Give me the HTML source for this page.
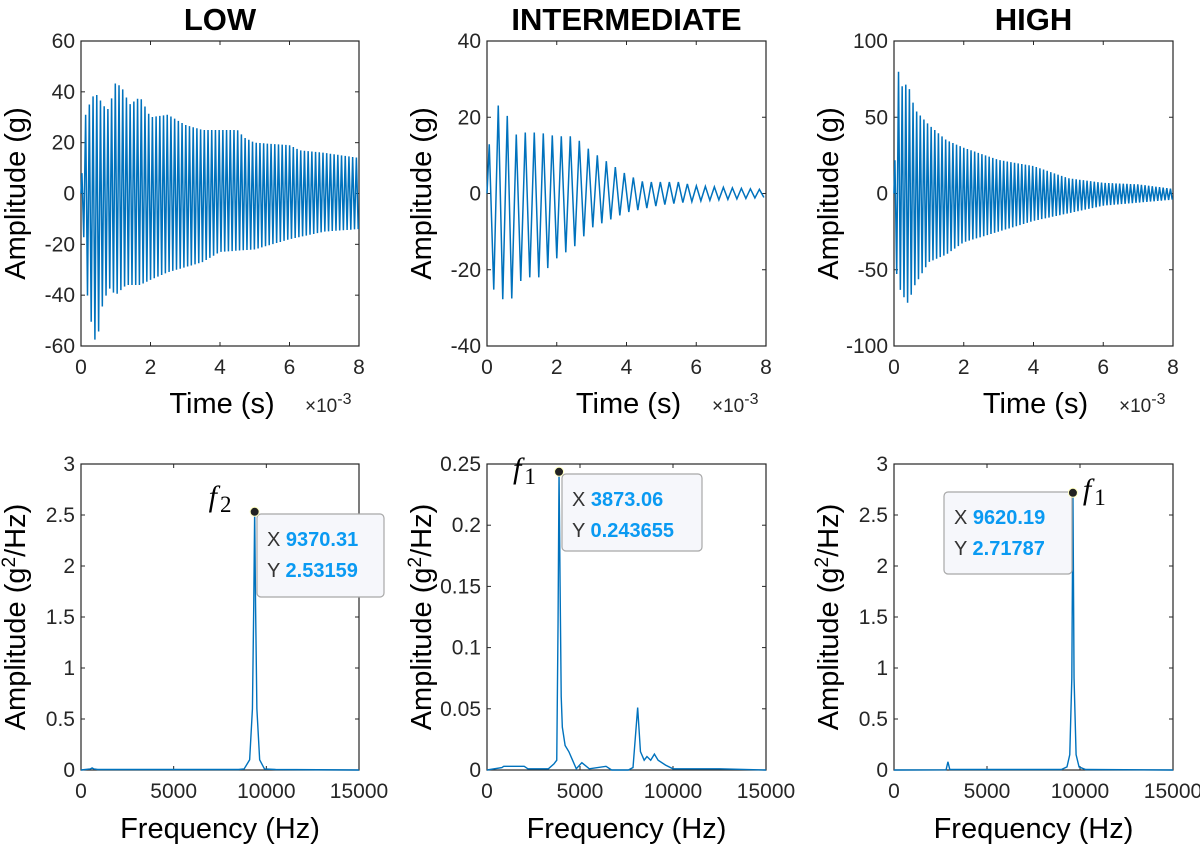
<!DOCTYPE html>
<html><head><meta charset="utf-8">
<style>
body{margin:0;background:#fff;}
svg{display:block;font-family:"Liberation Sans",sans-serif;}
</style></head>
<body>
<svg id="fig" width="1200" height="845" viewBox="0 0 1200 845"></svg>
<script>
// ---- data ----
const lowEnvT=[0,0.1,0.2,0.3,0.5,0.6,0.8,1.0,1.2,1.4,1.7,2.0,2.5,3.0,3.5,4.0,4.5,4.7,5.0,6.0,6.3,7.0,8.0];
const lowEnvU=[0,30,33,38,39,35,33,44,41,35,38,30,31,27,25,25,25,22,20,19,17,16,14];
const lowEnvLT=[0,0.2,0.35,0.45,0.6,0.8,1.0,1.3,1.7,2.0,2.5,3.0,3.5,4.0,5.0,6.0,7.0,8.0];
const lowEnvL=[0,-43,-55,-60,-45,-37,-40,-36,-36,-34,-31,-29,-27,-23,-22,-18,-15,-14];
const midEnvT=[0,0.1,0.2,0.35,0.5,0.7,1.0,1.5,2.0,2.5,3.0,3.5,4.0,4.5,5.0,5.5,6.0,7.0,8.0];
const midEnvU=[0,20,28,22,24,15,16,16,15,15,11,8,5,3,3,3,2,1.5,1];
const midEnvLT=[0,0.05,0.2,0.4,0.6,0.8,1.0,1.5,2.0,2.5,3.0,3.5,4.0,5.0,6.0,8.0];
const midEnvL=[0,-30,-25,-28,-27,-28,-22,-22,-17,-14,-9,-7,-5,-3,-2,-1];
const highEnvT=[0,0.1,0.2,0.4,0.6,1.0,1.5,2.0,3.0,4.0,5.0,6.0,7.0,8.0];
const highEnvU=[0,84,70,72,55,45,35,30,22,18,10,7,6,3];
const highEnvLT=[0,0.05,0.2,0.4,0.6,1.0,1.5,2.0,3.0,4.0,5.0,6.0,7.0,8.0];
const highEnvL=[0,-50,-65,-72,-60,-45,-40,-32,-25,-18,-13,-8,-6,-4];
const cycleFreqs=[9370,3873,9620];

const lowF=[0,500,600,700,900,2000,8500,8800,9100,9250,9320,9370,9420,9490,9640,9900,10500,15000];
const lowA=[0,0.01,0.02,0.01,0.005,0.005,0.005,0.01,0.1,0.6,1.6,2.53159,1.6,0.6,0.1,0.01,0.005,0];
const midF=[0,800,900,2000,2200,3300,3600,3750,3820,3873,3930,3990,4050,4200,4400,4600,4800,5100,5500,6400,6700,7600,7850,8100,8250,8450,8600,8800,9000,9200,9600,10000,12500,15000];
const midA=[0,0.002,0.003,0.003,0.001,0.001,0.005,0.008,0.12,0.243655,0.15,0.06,0.035,0.02,0.015,0.008,0.001,0.006,0.001,0.003,0,0,0.002,0.051,0.015,0.008,0.011,0.008,0.013,0.008,0.004,0.001,0.001,0];
const highF=[0,2800,2900,3000,9000,9300,9450,9560,9620,9680,9790,9950,10300,15000];
const highA=[0,0.002,0.08,0.005,0.005,0.03,0.15,0.9,2.71787,0.9,0.15,0.03,0.005,0];

const titles=["LOW","INTERMEDIATE","HIGH"];
const topYTicks=[[-60,-40,-20,0,20,40,60],[-40,-20,0,20,40],[-100,-50,0,50,100]];
const timeTicks=[0,2,4,6,8];
const botYTicks=[[0,0.5,1,1.5,2,2.5,3],[0,0.05,0.1,0.15,0.2,0.25],[0,0.5,1,1.5,2,2.5,3]];
const freqTicks=[0,5000,10000,15000];
const tipX=["9370.31","3873.06","9620.19"];
const tipY=["2.53159","0.243655","2.71787"];
const tipLbl=["2","1","1"];

// ---- layout ----
const NS="http://www.w3.org/2000/svg";
const svg=document.getElementById('fig');
const cols=[[81,359],[487,766],[894,1173]];
const topRow=[41,346], botRow=[464,770];
const BLUE="#0072BD";
function mk(tag,attrs,parent){const e=document.createElementNS(NS,tag);for(const k in attrs)e.setAttribute(k,attrs[k]);(parent||svg).appendChild(e);return e;}
function interp(ts,vs,t){if(t<=ts[0])return vs[0];for(let i=1;i<ts.length;i++){if(t<=ts[i]){const f=(t-ts[i-1])/(ts[i]-ts[i-1]);return vs[i-1]+f*(vs[i]-vs[i-1]);}}return vs[vs.length-1];}

function axes(g,x0,x1,y0,y1,xt,xmin,xmax,yt,ymin,ymax,fmtX,fmtY){
  const sx=v=>x0+(v-xmin)/(xmax-xmin)*(x1-x0);
  const sy=v=>y1-(v-ymin)/(ymax-ymin)*(y1-y0);
  const fr=mk('rect',{x:x0,y:y0,width:x1-x0,height:y1-y0,fill:'none',stroke:'#262626','stroke-width':1.2},g);
  
  xt.forEach(v=>{const x=sx(v);
    mk('line',{x1:x,y1:y1,x2:x,y2:y1-4,stroke:'#262626'},g);mk('line',{x1:x,y1:y0,x2:x,y2:y0+4,stroke:'#262626'},g);
    const t=mk('text',{x:x,y:y1+28,'text-anchor':'middle','font-size':21,fill:'#262626'},g);t.textContent=fmtX(v);
    });
  yt.forEach(v=>{const y=sy(v);
    mk('line',{x1:x0,y1:y,x2:x0+4,y2:y,stroke:'#262626'},g);mk('line',{x1:x1,y1:y,x2:x1-4,y2:y,stroke:'#262626'},g);
    const t=mk('text',{x:x0-6,y:y+7,'text-anchor':'end','font-size':21,fill:'#262626'},g);t.textContent=fmtY(v);
    });
  return [sx,sy];
}

const envs=[[lowEnvT,lowEnvU,lowEnvLT,lowEnvL],[midEnvT,midEnvU,midEnvLT,midEnvL],[highEnvT,highEnvU,highEnvLT,highEnvL]];
const specs=[[lowF,lowA],[midF,midA],[highF,highA]];

for(let p=0;p<3;p++){
  const [x0,x1]=cols[p];
  const tt=mk('text',{x:(x0+x1)/2,y:30,'text-anchor':'middle','font-size':31,'font-weight':'bold',fill:'#000'});
  tt.textContent=titles[p];
  const g=mk('g',{});
  const yt=topYTicks[p];
  const [sx,sy]=axes(g,x0,x1,topRow[0],topRow[1],timeTicks,0,8,yt,yt[0],yt[yt.length-1],v=>v,v=>v);
  const [eT,eU,eLT,eL]=envs[p];
  const period=1000/cycleFreqs[p];
  let d=`M${sx(0)},${sy(0)}`;
  for(let t=period/4,k=0;t<8;t+=period/2,k++){
    const v=(k%2===0)?interp(eT,eU,t):interp(eLT,eL,t);
    d+=` L${sx(t).toFixed(2)},${sy(v).toFixed(2)}`;
  }
  const pl=mk('path',{d:d,fill:'none',stroke:BLUE,'stroke-width':1.5},g);
  
  const xl=mk('text',{x:(x0+x1)/2+2,y:413,'text-anchor':'middle','font-size':29,fill:'#000'},g);xl.textContent='Time (s)';
  
  const ex=mk('text',{x:x1-54,y:412,'font-size':19,fill:'#262626'},g);ex.innerHTML='×10<tspan dy="-8" font-size="16">-3</tspan>';
  
  const yl=mk('text',{x:0,y:0,'text-anchor':'middle','font-size':29,fill:'#000',transform:`translate(${x0-56},${(topRow[0]+topRow[1])/2}) rotate(-90)`},g);yl.textContent='Amplitude (g)';
  

  const g2=mk('g',{});
  const bt=botYTicks[p];
  const [bx,by]=axes(g2,x0,x1,botRow[0],botRow[1],freqTicks,0,15000,bt,0,bt[bt.length-1],v=>v,v=>v);
  const [F,A]=specs[p];
  const sd=F.map((f,i)=>(i?'L':'M')+bx(f).toFixed(2)+','+by(A[i]).toFixed(2)).join(' ');
  const sp=mk('path',{d:sd,fill:'none',stroke:BLUE,'stroke-width':1.4},g2);
  
  const bxl=mk('text',{x:(x0+x1)/2,y:838,'text-anchor':'middle','font-size':29,fill:'#000'},g2);bxl.textContent='Frequency (Hz)';
  
  const byl=mk('text',{x:0,y:0,'text-anchor':'middle','font-size':29,fill:'#000',transform:`translate(${x0-56},${(botRow[0]+botRow[1])/2}) rotate(-90)`},g2);
  byl.innerHTML='Amplitude (g<tspan dy="-10" font-size="19">2</tspan><tspan dy="10">/Hz)</tspan>';
  
  let pi=0;A.forEach((a,i)=>{if(a>A[pi])pi=i;});
  const px=bx(F[pi]),py=by(A[pi]);
  const tipBox=[[257,514,127,83],[562,474,140,77],[944,492,128,82]][p];
  const tg=mk('g',{},g2);
  mk('rect',{x:tipBox[0],y:tipBox[1],width:tipBox[2],height:tipBox[3],rx:4,fill:'#f6f7fb',stroke:'#a8a8a8','stroke-width':1.2},tg);
  const r1=mk('text',{x:tipBox[0]+10,y:tipBox[1]+32,'font-size':20,fill:'#333'},tg);r1.innerHTML=`X <tspan fill="#0a9af2" font-weight="bold">${tipX[p]}</tspan>`;
  const r2=mk('text',{x:tipBox[0]+10,y:tipBox[1]+63,'font-size':20,fill:'#333'},tg);r2.innerHTML=`Y <tspan fill="#0a9af2" font-weight="bold">${tipY[p]}</tspan>`;
  const dot=mk('circle',{cx:px,cy:py,r:4.5,fill:'#222',stroke:'#ffffc0','stroke-width':1},g2);
  
  const fx=p===2?px+10:px-46;
  const fl=mk('text',{x:fx,y:py+(p===0?-6:6),'font-size':30,'font-style':'italic','font-family':'"Liberation Serif",serif',fill:'#000'},g2);
  fl.innerHTML=`f<tspan dx="3" dy="6" font-style="normal" font-size="23">${tipLbl[p]}</tspan>`;
  
}
</script>
</body></html>
